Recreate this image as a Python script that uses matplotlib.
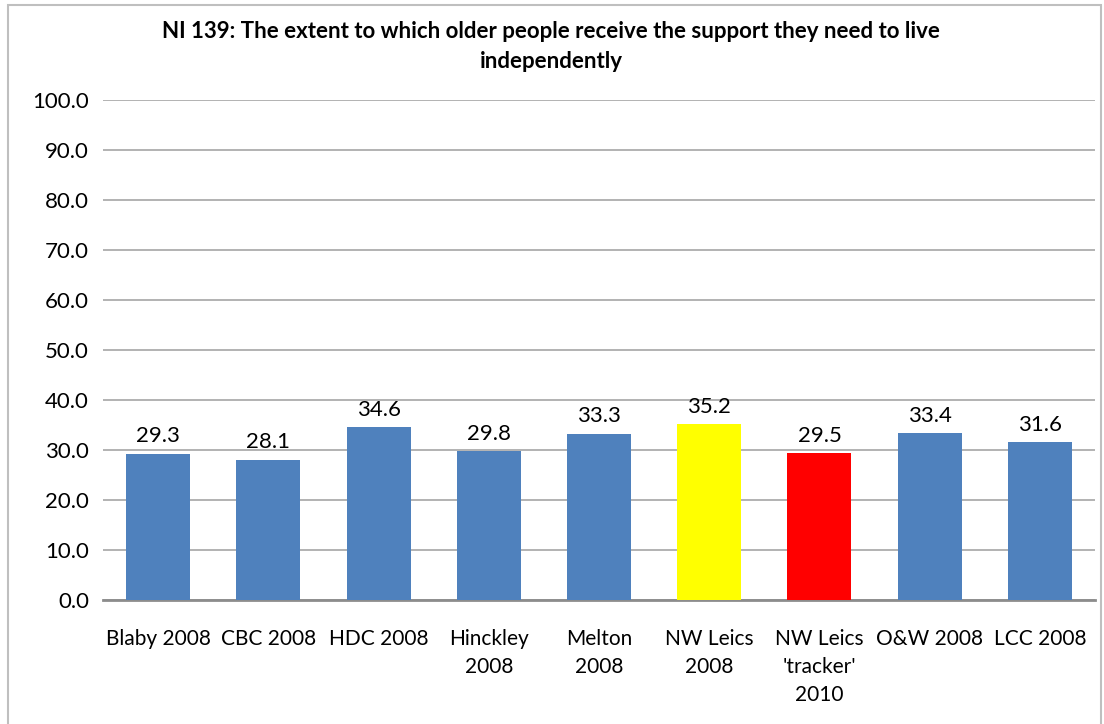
import matplotlib.pyplot as plt
from matplotlib.patches import Rectangle

categories = ["Blaby 2008", "CBC 2008", "HDC 2008", "Hinckley\n2008", "Melton\n2008",
              "NW Leics\n2008", "NW Leics\n'tracker'\n2010", "O&W 2008", "LCC 2008"]
values = [29.3, 28.1, 34.6, 29.8, 33.3, 35.2, 29.5, 33.4, 31.6]
colors = ["#4F81BD"] * 5 + ["#FFFF00", "#FF0000"] + ["#4F81BD"] * 2

plt.rcParams['font.family'] = ['Lato', 'DejaVu Sans']

fig = plt.figure(figsize=(11.04, 7.24), dpi=100)
ax = fig.add_axes([103/1104, 1 - 600/724, 992/1104, 500/724])

x = range(len(categories))
bars = ax.bar(x, values, width=0.58, color=colors, zorder=3)
for b, v in zip(bars, values):
    ax.text(b.get_x() + b.get_width()/2, v + 1.4, f"{v:.1f}", ha='center', va='bottom', fontsize=16)

ax.set_ylim(0, 100)
ax.set_xlim(-0.5, len(categories) - 0.5)
ax.set_yticks(range(0, 101, 10))
ax.set_yticklabels([f"{t:.1f}" for t in range(0, 101, 10)], fontsize=16)
ax.set_xticks(list(x))
ax.set_xticklabels(categories, fontsize=15, linespacing=1.5, va='top')
ax.tick_params(length=0, pad=10)
ax.tick_params(axis='x', pad=21)
ax.yaxis.grid(True, color='#A6A6A6', linewidth=1.2, zorder=0)
for s in ['top', 'right', 'left']:
    ax.spines[s].set_visible(False)
ax.spines['bottom'].set_color('#8C8C8C')
ax.spines['bottom'].set_linewidth(2)

fig.text(551/1104, 1 - 32/724, "NI 139: The extent to which older people receive the support they need to live",
         ha='center', va='center', fontsize=16, fontweight='bold')
fig.text(551/1104, 1 - 62/724, "independently", ha='center', va='center', fontsize=16, fontweight='bold')

fig.patches.append(Rectangle((8/1104, -0.01), (1101 - 8)/1104, 1 - 5/724 + 0.01,
                             transform=fig.transFigure, fill=False, edgecolor='#BFBFBF', linewidth=1.5))

fig.savefig("out.png", dpi=100)
